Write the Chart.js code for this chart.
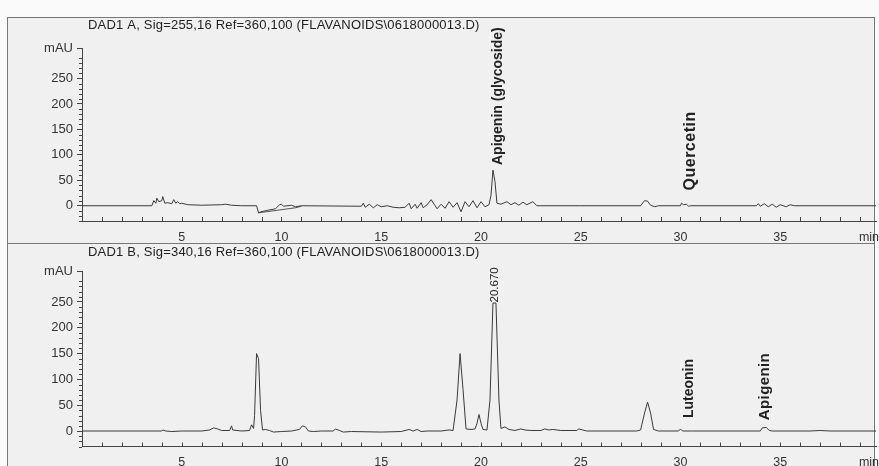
<!DOCTYPE html>
<html>
<head>
<meta charset="utf-8">
<script src="https://cdn.jsdelivr.net/npm/chart.js@4.4.1/dist/chart.umd.min.js"></script>
<style>
  body { margin: 0; background: #fafafa; width: 879px; height: 466px; overflow: hidden; position: relative; }
  .panel { position: absolute; left: 7px; width: 868px; background: #f0f0f0; border: 1px solid #777; box-sizing: border-box; }
  #panelA { top: 17px; height: 227px; }
  #panelB { top: 243px; height: 240px; }
  canvas { position: absolute; left: 0; }
  #chartA { top: 0; }
  #chartB { top: 243px; }
</style>
</head>
<body>
<div class="panel" id="panelA"></div>
<div class="panel" id="panelB"></div>
<canvas id="chartA" width="879" height="243"></canvas>
<canvas id="chartB" width="879" height="223"></canvas>
<script>
// Signal A (255 nm)
const timeA = [0, 3.5, 3.6, 3.7, 3.75, 3.85, 4.0, 4.05, 4.15, 4.3, 4.5, 4.6, 4.7, 4.8, 4.9, 5.0, 5.3, 6.0, 7.0, 7.2, 7.5, 8.0, 8.75,
  8.85, 8.95, 9.3, 9.7, 9.9, 10.0, 10.1, 10.5, 10.7, 11.0, 14.0, 14.1, 14.2, 14.4, 14.6, 14.8, 15.0, 15.3, 15.6, 15.9, 16.2,
  16.4, 16.5, 16.7, 16.8, 17.0, 17.1, 17.3, 17.5, 17.7, 17.8, 18.0, 18.2, 18.4, 18.6, 18.8, 19.0, 19.2, 19.4, 19.6, 19.8, 20.0,
  20.2, 20.4, 20.5, 20.6, 20.7, 20.8, 21.0, 21.3, 21.5, 21.7, 21.9, 22.1, 22.3, 22.6, 22.8, 23.0, 25.0, 28.0, 28.2, 28.35, 28.5,
  28.7, 28.9, 30.0, 30.05, 30.15, 30.3, 30.4, 30.5, 33.8, 33.9, 34.0, 34.2, 34.4, 34.6, 34.8, 35.0, 35.3, 35.5, 35.7, 39.8];
const signalA = [0, 0, 10, 5, 15, 8, 10, 18, 5, 6, 4, 12, 5, 8, 4, 5, 2, 1, 2, 3, 1, 0, 0,
  -14, -12, -9, -6, 2, 3, -1, 1, -2, 0, -1, 5, -3, 3, -4, 2, -2, 0, -3, -4, -3,
  5, -6, 3, -5, 6, -4, 2, 12, 0, -6, 3, -5, 8, -3, 6, -12, 8, -2, 10, -4, 8,
  -2, 2, 20, 70, 48, 5, 3, 8, 2, 6, 1, 7, 2, 8, 0, 0, 0, 0, 10, 9, 1,
  -2, 0, 0, 5, 2, 3, -1, 0, 0, 4, -1, 4, -2, 3, -3, 2, -2, 2, 0, 0];
const baseTimeA = [8.85, 10.7, 11.0];
const baseA = [-14, -4, -1];

// Signal B (340 nm)
const timeB = [0, 4.0, 4.05, 4.2, 4.5, 5.0, 6.0, 6.4, 6.6, 6.8, 7.0, 7.4, 7.5, 7.55, 8.0, 8.4, 8.5, 8.6, 8.65, 8.75, 8.85,
  8.95, 9.05, 9.2, 9.4, 9.6, 10.0, 10.5, 10.9, 11.05, 11.2, 11.35, 11.6, 12.0, 12.6, 12.7, 12.9, 13.1, 13.5, 15.0, 16.0,
  16.4, 16.6, 16.8, 17.0, 17.3, 18.0, 18.4, 18.6, 18.8, 18.95, 19.1, 19.25, 19.5, 19.7, 19.8, 19.9, 20.0, 20.1, 20.3,
  20.45, 20.6, 20.75, 20.9, 21.0, 21.2, 21.4, 21.7, 22.0, 22.2, 22.5, 23.0, 23.2, 23.4, 23.6, 24.0, 24.8, 24.9, 25.1,
  25.3, 27.8, 28.0, 28.2, 28.35, 28.5, 28.65, 28.9, 29.9, 30.0, 30.1, 30.6, 34.0, 34.1, 34.3, 34.45, 34.6, 36.5, 37.0,
  37.5, 39.8];
const signalB = [0, 0, 2, 0, -1, 0, 0, 2, 6, 4, 1, 1, 10, 2, 0, 1, 12, 5, 30, 150, 140,
  40, 2, 3, 1, -2, -1, 0, 3, 10, 8, 0, -1, 0, 0, 4, 1, -2, -1, -2, -1,
  3, 0, 3, -1, 0, 0, 2, 1, 60, 150, 80, 4, 3, 4, 15, 32, 15, 3, 2,
  60, 248, 248, 60, 5, 8, 3, 1, 4, 2, 1, 1, 4, 2, 3, 1, 1, 4, 2,
  0, 0, 2, 35, 56, 35, 3, 0, 0, 4, 0, 0, 0, 6, 7, 1, 0, 0, 1,
  0, 0];

const yTicks = [0, 50, 100, 150, 200, 250, 310];
const xTicks = [5, 10, 15, 20, 25, 30, 35];
const xUnit = 'min';

const titleA = 'DAD1 A, Sig=255,16 Ref=360,100 (FLAVANOIDS\\0618000013.D)';
const titleB = 'DAD1 B, Sig=340,16 Ref=360,100 (FLAVANOIDS\\0618000013.D)';

const notesA = ['Apigenin (glycoside)', 'Quercetin'];
const notesATime = [20.85, 30.5];
const notesALevel = [80, 30];
const notesB = ['20.670', 'Luteonin', 'Apigenin'];
const notesBTime = [20.7, 30.45, 34.25];
const notesBLevel = [249, 25, 21];

const toXY = (ts, vs) => ts.map((t, i) => ({ x: t, y: vs[i] }));
const FAMILY = '"Liberation Sans", Arial, sans-serif';

const decor = {
  id: 'decor',
  afterDraw(chart, args, opts) {
    const { ctx, scales: { x, y } } = chart;
    ctx.save();
    ctx.strokeStyle = '#444';
    ctx.lineWidth = 1;
    ctx.beginPath();
    for (let t = 1; t <= 39; t++) {
      const px = Math.round(x.getPixelForValue(t)) + 0.5;
      ctx.moveTo(px, y.bottom);
      ctx.lineTo(px, y.bottom - 4);
    }
    for (let v = -30; v <= 300; v += 10) {
      if (v % 50 === 0) continue;
      const py = Math.round(y.getPixelForValue(v)) + 0.5;
      ctx.moveTo(x.left, py);
      ctx.lineTo(x.left - 3, py);
    }
    ctx.stroke();

    // axis unit at the right end of the time axis
    ctx.fillStyle = '#333';
    ctx.font = '12.5px ' + FAMILY;
    ctx.textAlign = 'center';
    ctx.textBaseline = 'top';
    ctx.fillText(xUnit, x.right - 7, y.bottom + 10);

    ctx.fillStyle = '#222';
    ctx.font = '13px ' + FAMILY;
    ctx.letterSpacing = '0.2px';
    ctx.textBaseline = 'middle';
    ctx.textAlign = 'left';
    ctx.fillText(opts.title, x.left + 6, opts.titleY);

    opts.notes.forEach((text, i) => {
      ctx.save();
      ctx.translate(x.getPixelForValue(opts.times[i]), y.getPixelForValue(opts.levels[i]));
      ctx.rotate(-Math.PI / 2);
      ctx.font = opts.fonts[i];
      ctx.letterSpacing = opts.spacing[i];
      ctx.fillText(text, 0, 0);
      ctx.restore();
    });
    ctx.restore();
  }
};

function makeChart(id, datasets, padTop, axisH, decorOpts) {
  return new Chart(document.getElementById(id), {
    type: 'line',
    data: { datasets },
    options: {
      responsive: false,
      animation: false,
      layout: { padding: { top: padTop, right: 3, left: 0, bottom: 0 } },
      elements: { point: { radius: 0 }, line: { tension: 0, borderWidth: 1 } },
      plugins: { legend: { display: false }, tooltip: { enabled: false }, decor: decorOpts },
      scales: {
        x: {
          type: 'linear', min: 0, max: 39.8,
          afterBuildTicks: s => { s.ticks = xTicks.map(v => ({ value: v })); },
          afterFit: s => { s.height = axisH; },
          grid: { drawOnChartArea: false, drawTicks: false },
          border: { color: '#444' },
          ticks: {
            autoSkip: false, maxRotation: 0, padding: 9, color: '#333',
            font: { family: FAMILY, size: 12.5 }
          }
        },
        y: {
          min: -30, max: 310,
          afterBuildTicks: s => { s.ticks = yTicks.map(v => ({ value: v })); },
          afterFit: s => { s.width = 82; },
          grid: { drawOnChartArea: false, tickLength: 5, color: '#444' },
          border: { color: '#444' },
          ticks: {
            padding: 4, color: '#333',
            font: { family: FAMILY, size: 13 },
            callback: v => (v === 310 ? 'mAU' : v)
          }
        }
      }
    },
    plugins: [decor]
  });
}

const noteFont = 'bold 14px ' + FAMILY;

makeChart('chartA', [
  { data: toXY(timeA, signalA), borderColor: '#3a3a3a' },
  { data: toXY(baseTimeA, baseA), borderColor: '#555' }
], 48, 22, {
  title: titleA, titleY: 25,
  notes: notesA, times: notesATime, levels: notesALevel,
  fonts: [noteFont, 'bold 16px ' + FAMILY], spacing: ['0px', '0.5px']
});

makeChart('chartB', [
  { data: toXY(timeB, signalB), borderColor: '#3a3a3a' }
], 28, 19.5, {
  title: titleB, titleY: 9,
  notes: notesB, times: notesBTime, levels: notesBLevel,
  fonts: ['11.5px ' + FAMILY, noteFont, 'bold 15px ' + FAMILY], spacing: ['0px', '0px', '0.4px']
});
</script>
</body>
</html>
